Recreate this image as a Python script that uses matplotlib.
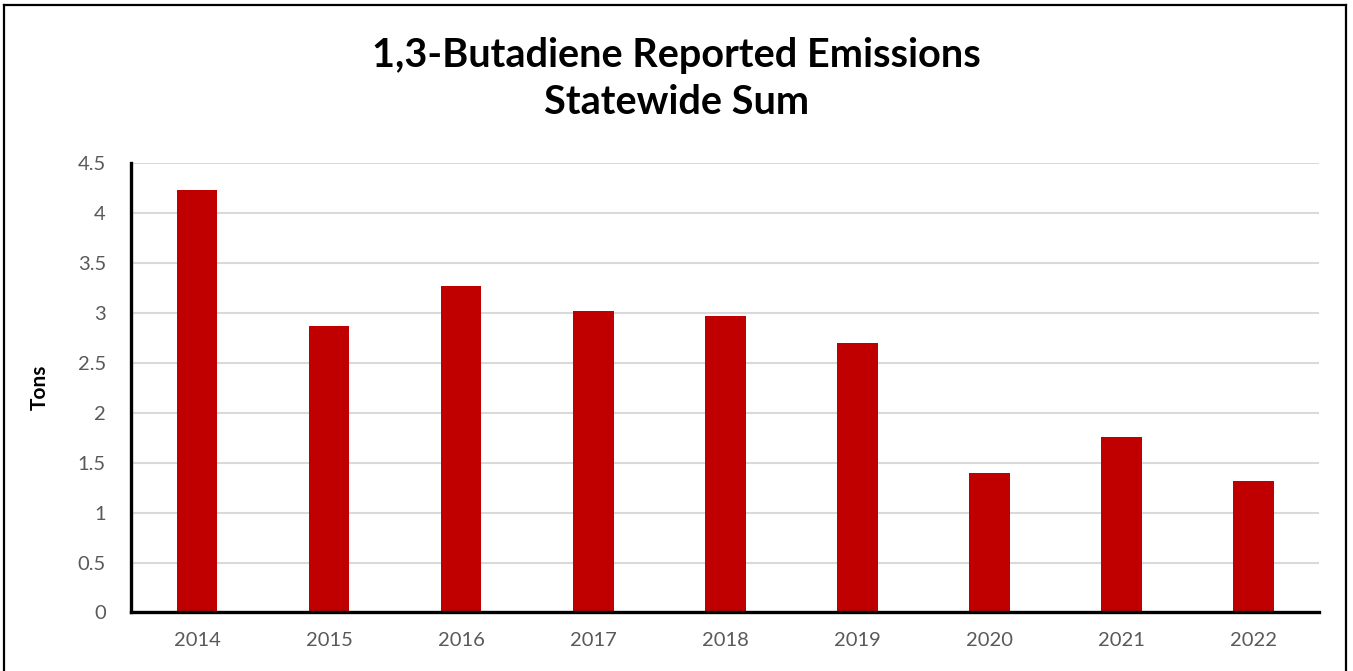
import matplotlib
matplotlib.use('Agg')
import matplotlib.pyplot as plt
from matplotlib.lines import Line2D

#-- data
years = ['2014', '2015', '2016', '2017', '2018', '2019', '2020', '2021', '2022']
tons = [4.23, 2.87, 3.27, 3.02, 2.97, 2.70, 1.40, 1.76, 1.32]
yticks = [0, 0.5, 1, 1.5, 2, 2.5, 3, 3.5, 4, 4.5]
ytick_labels = ['0', '0.5', '1', '1.5', '2', '2.5', '3', '3.5', '4', '4.5']

plt.rcParams['font.family'] = ['Lato', 'DejaVu Sans']

fig = plt.figure(figsize=(13.53, 6.71), dpi=100)
ax = fig.add_axes([0.0968, 0.0872, 0.8782, 0.6703])

xpos = list(range(len(years)))
ax.bar(xpos, tons, width=0.31, color='#C00000', zorder=3)

ax.set_xlim(-0.5, len(years) - 0.5)
ax.set_ylim(0, 4.5)
ax.set_yticks(yticks)
ax.set_yticklabels(ytick_labels)
ax.set_xticks(xpos)
ax.set_xticklabels(years)
ax.tick_params(axis='both', length=0, labelsize=14.5, colors='#595959')
ax.tick_params(axis='x', pad=14)
ax.tick_params(axis='y', pad=18)
ax.yaxis.grid(True, color='#D9D9D9', linewidth=1.5, zorder=0)
ax.set_axisbelow(True)

for side in ['top', 'right']:
    ax.spines[side].set_visible(False)
for side in ['left', 'bottom']:
    ax.spines[side].set_color('black')
    ax.spines[side].set_linewidth(2.4)
    ax.spines[side].set_zorder(4)

ax.set_ylabel('Tons', fontsize=15, fontweight='bold', color='black', labelpad=20)

fig.text(0.5, 0.918, '1,3-Butadiene Reported Emissions', ha='center', va='center',
         fontsize=28.5, fontweight='bold')
fig.text(0.5, 0.8465, 'Statewide Sum', ha='center', va='center',
         fontsize=28.5, fontweight='bold')

#-- outer border (bottom edge is cut off in the reference)
fig.add_artist(Line2D([4/1353, 4/1353], [0, 1 - 5/671], color='black', lw=1.6))
fig.add_artist(Line2D([4/1353, 1346/1353], [1 - 5/671, 1 - 5/671], color='black', lw=1.6))
fig.add_artist(Line2D([1346/1353, 1346/1353], [0, 1 - 5/671], color='black', lw=1.6))

fig.savefig('out.png', dpi=100)
